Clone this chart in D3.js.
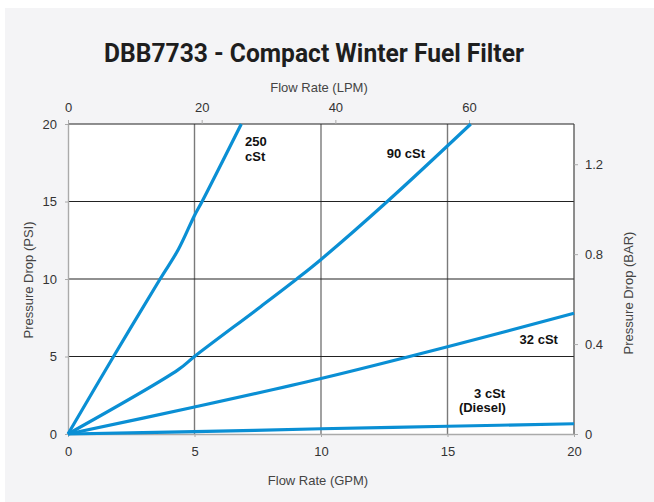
<!DOCTYPE html>
<html>
<head>
<meta charset="utf-8">
<script src="https://cdn.jsdelivr.net/npm/d3@7"></script>
<style>
  body { margin: 0; background: #fff; }
  svg { display: block; font-family: "Liberation Sans", Arial, sans-serif; }
</style>
</head>
<body>
<svg width="654" height="502"></svg>
<script>
// Data (GPM, PSI)
const gpm250 = [0, 1.8, 3.64, 4.36, 5.0, 5.3, 6.85];
const psi250 = [0, 5, 10, 11.9, 14.1, 15, 20];
const gpm90 = [0, 4.36, 5, 7.6, 9.04, 10, 12.62, 15.92];
const psi90 = [0, 4.15, 5, 8.2, 10, 11.26, 15, 20];
const gpm32 = [0, 5, 10, 15, 20];
const psi32 = [0, 1.74, 3.58, 5.63, 7.79];
const gpm3 = [0, 5, 10, 15, 20];
const psi3 = [0, 0.15, 0.34, 0.5, 0.66];

const gpmTicks = [0, 5, 10, 15, 20];
const psiTicks = [0, 5, 10, 15, 20];
const lpmTicks = [0, 20, 40, 60];
const barTicks = [0, 0.4, 0.8, 1.2];

const LPM_PER_GPM = 3.785;
const BAR_PER_PSI = 0.0689476;

const svg = d3.select("svg");
const pL = 68, pR = 574, pT = 124, pB = 434;

// page background
svg.append("rect").attr("x", 5).attr("y", 8).attr("width", 649).attr("height", 494).attr("fill", "#f4f4f6");

const x = d3.scaleLinear().domain([0, 20]).range([pL, pR]);
const y = d3.scaleLinear().domain([0, 20]).range([pB, pT]);
const xL = d3.scaleLinear().domain([0, 20 * LPM_PER_GPM]).range([pL, pR]);
const yB = d3.scaleLinear().domain([0, 20 * BAR_PER_PSI]).range([pB, pT]);

svg.append("rect").attr("x", pL).attr("y", pT)
  .attr("width", pR - pL).attr("height", pB - pT).attr("fill", "#fff");

// grid
svg.append("g").selectAll("line").data(gpmTicks.filter(d => d > 0 && d < 20)).join("line")
  .attr("x1", d => x(d)).attr("x2", d => x(d)).attr("y1", pT).attr("y2", pB)
  .attr("stroke", "#7a7a7a").attr("stroke-width", 1.4);
svg.append("g").selectAll("line").data(psiTicks.filter(d => d > 0)).join("line")
  .attr("x1", pL).attr("x2", pR).attr("y1", d => y(d)).attr("y2", d => y(d))
  .attr("stroke", "#222").attr("stroke-width", 1.1);
svg.append("line").attr("x1", pR).attr("x2", pR).attr("y1", pT).attr("y2", pB)
  .attr("stroke", "#444").attr("stroke-width", 1.2);

function styleAxis(g) {
  g.selectAll("path").attr("stroke", "#aaa").attr("stroke-width", 1.4);
  g.selectAll("line").attr("stroke", "#aaa");
  g.selectAll("text").attr("fill", "#333").style("font-size", "13px");
}

svg.append("g").attr("transform", `translate(0,${pB})`)
  .call(d3.axisBottom(x).tickValues(gpmTicks).tickSize(3).tickPadding(10).tickSizeOuter(0))
  .call(styleAxis);
svg.append("g").attr("transform", `translate(${pL},0)`)
  .call(d3.axisLeft(y).tickValues(psiTicks).tickSize(3).tickPadding(8).tickSizeOuter(0))
  .call(styleAxis);
const topAx = svg.append("g").attr("transform", `translate(0,${pT})`)
  .call(d3.axisTop(xL).tickValues(lpmTicks).tickSize(4).tickPadding(8).tickSizeOuter(0))
  .call(styleAxis);
topAx.select("path").remove();
const rightAx = svg.append("g").attr("transform", `translate(${pR},0)`)
  .call(d3.axisRight(yB).tickValues(barTicks).tickFormat(d => d === 0 ? "0" : d3.format(".1f")(d))
    .tickSize(4).tickPadding(7).tickSizeOuter(0))
  .call(styleAxis);
rightAx.select("path").remove();

// curves
const line = d3.line().x(d => x(d[0])).y(d => y(d[1])).curve(d3.curveCatmullRom.alpha(0.5));
const series = [[gpm250, psi250], [gpm90, psi90], [gpm32, psi32], [gpm3, psi3]];
svg.append("g").selectAll("path").data(series).join("path")
  .attr("d", s => line(d3.zip(s[0], s[1])))
  .attr("fill", "none").attr("stroke", "#0a8fd4").attr("stroke-width", 3.2)
  .attr("stroke-linejoin", "round");

// curve labels
const labels = [
  { t: "250", gx: 7.0, gy: 18.6 },
  { t: "cSt", gx: 7.0, gy: 17.6 },
  { t: "90 cSt", gx: 12.6, gy: 17.8 },
  { t: "32 cSt", gx: 17.85, gy: 5.8 },
  { t: "3 cSt", gx: 16.05, gy: 2.35 },
  { t: "(Diesel)", gx: 15.45, gy: 1.4 }
];
svg.append("g").selectAll("text").data(labels).join("text")
  .attr("x", d => x(d.gx)).attr("y", d => y(d.gy))
  .attr("font-weight", "bold").attr("font-size", 13).attr("fill", "#111")
  .text(d => d.t);

// titles
svg.append("text").attr("x", 314).attr("y", 62).attr("text-anchor", "middle")
  .attr("font-family", "Roboto, 'Liberation Sans', sans-serif")
  .attr("font-weight", "bold").attr("font-size", 25).attr("fill", "#1e1e1e")
  .attr("textLength", 420).attr("lengthAdjust", "spacingAndGlyphs")
  .text("DBB7733 - Compact Winter Fuel Filter");

svg.append("text").attr("x", 319).attr("y", 92).attr("text-anchor", "middle")
  .attr("font-size", 13).attr("fill", "#444").text("Flow Rate (LPM)");
svg.append("text").attr("x", 318).attr("y", 485).attr("text-anchor", "middle")
  .attr("font-size", 13).attr("fill", "#444").text("Flow Rate (GPM)");
svg.append("text").attr("transform", "translate(33,280) rotate(-90)").attr("text-anchor", "middle")
  .attr("font-size", 13).attr("fill", "#444").text("Pressure Drop (PSI)");
svg.append("text").attr("transform", "translate(633,293) rotate(-90)").attr("text-anchor", "middle")
  .attr("font-size", 13).attr("fill", "#444").text("Pressure Drop (BAR)");
</script>
</body>
</html>
